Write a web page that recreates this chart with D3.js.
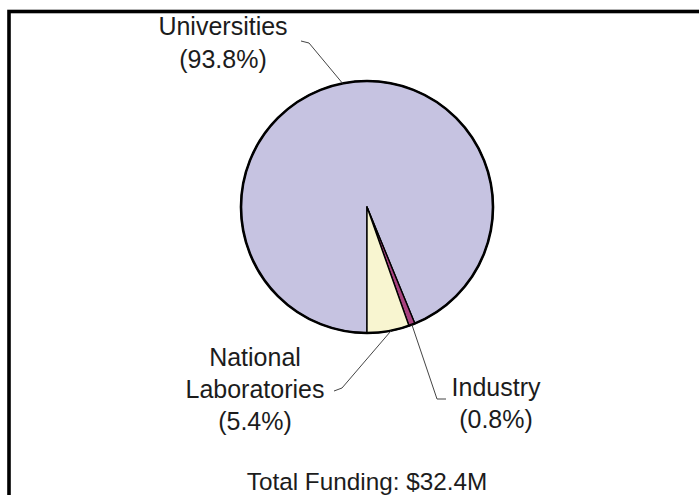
<!DOCTYPE html>
<html>
<head>
<meta charset="utf-8">
<script src="https://cdn.jsdelivr.net/npm/d3@7"></script>
<style>
  html, body { margin: 0; padding: 0; background: #fff; }
  svg { display: block; }
  text { font-family: "Liberation Sans", Arial, sans-serif; fill: #1c1c1c; }
</style>
</head>
<body>
<svg id="chart" width="699" height="495"></svg>
<script>
// Funding share by performer type
const sectors = ["Universities", "Industry", "National Laboratories"];
const shares = [93.8, 0.8, 5.4];
const sectorColors = ["#c6c3e1", "#a8417e", "#f8f5d0"];
const labelLines = [["Universities", "(93.8%)"], ["Industry", "(0.8%)"], ["National", "Laboratories", "(5.4%)"]];
const totalLabel = "Total Funding: $32.4M";

const svg = d3.select("#chart");
const cx = 367, cy = 207, r = 126;

// outer frame
svg.append("rect")
  .attr("x", 9).attr("y", 11.5)
  .attr("width", 760).attr("height", 560)
  .attr("fill", "none").attr("stroke", "#000").attr("stroke-width", 3.6);

const pie = d3.pie().sort(null).value(d => d)
  .startAngle(Math.PI).endAngle(3 * Math.PI);
const arcs = pie(shares);
const arc = d3.arc().innerRadius(0).outerRadius(r);

const g = svg.append("g").attr("transform", `translate(${cx},${cy})`);
g.selectAll("path.slice").data(arcs).enter().append("path")
  .attr("class", "slice")
  .attr("d", arc)
  .attr("fill", (d, i) => sectorColors[i])
  .attr("stroke", "#000").attr("stroke-width", 1.4)
  .attr("stroke-linejoin", "round");
g.append("circle").attr("r", r).attr("fill", "none")
  .attr("stroke", "#000").attr("stroke-width", 2.6);

// leader lines: point on the rim, elbow, end next to the label
function rim(d, frac) {
  const a = d.startAngle + (d.endAngle - d.startAngle) * frac;
  return [cx + Math.sin(a) * r, cy - Math.cos(a) * r];
}
const leaders = [
  { d: arcs[0], frac: 0.5, elbow: [309, 43], end: [301, 41] },
  { d: arcs[1], frac: 0.5, elbow: [437, 399], end: [446, 399] },
  { d: arcs[2], frac: 0.43, elbow: [342, 388], end: [334, 391] }
];
svg.selectAll("path.leader").data(leaders).enter().append("path")
  .attr("class", "leader")
  .attr("d", l => d3.line()([rim(l.d, l.frac), l.elbow, l.end]))
  .attr("fill", "none").attr("stroke", "#444").attr("stroke-width", 1);

// labels
const labelPos = [
  { x: 223, y: [35, 68] },
  { x: 496, y: [396, 428] },
  { x: 255, y: [366, 398, 430] }
];
labelLines.forEach((lines, i) => {
  const t = svg.append("text").attr("text-anchor", "middle").attr("font-size", 25);
  lines.forEach((s, j) => {
    t.append("tspan").attr("x", labelPos[i].x).attr("y", labelPos[i].y[j]).text(s);
  });
});

svg.append("text").attr("x", 367).attr("y", 490)
  .attr("text-anchor", "middle").attr("font-size", 24.3)
  .text(totalLabel);
</script>
</body>
</html>
